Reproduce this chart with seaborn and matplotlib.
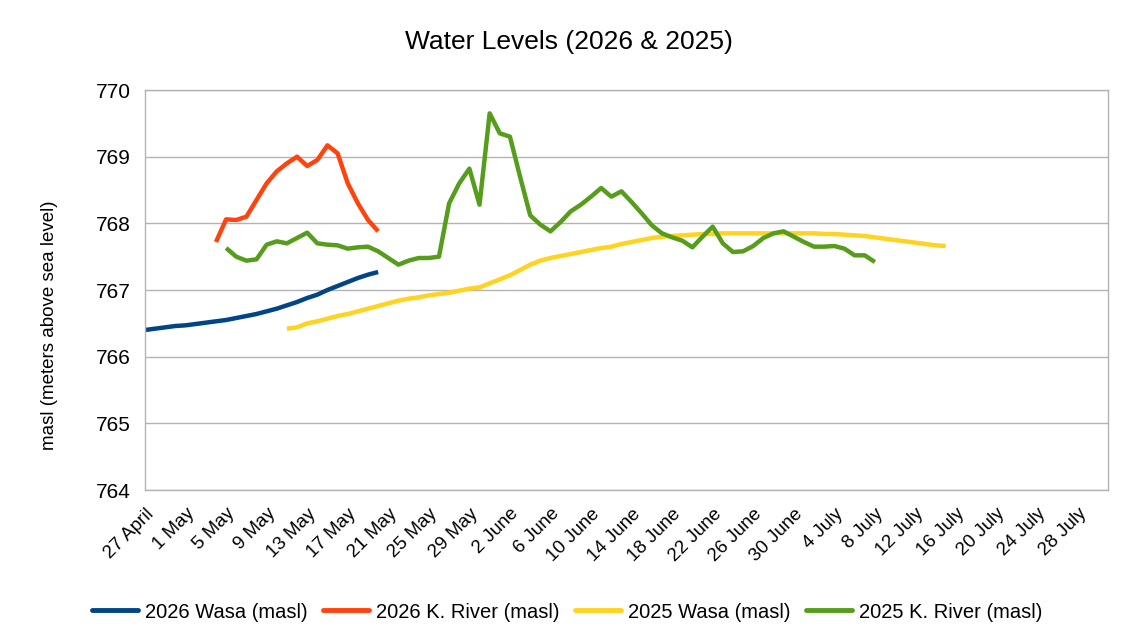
import pandas as pd
import numpy as np
import matplotlib
matplotlib.use("Agg")
import matplotlib.pyplot as plt
import seaborn as sns

# day index 0 = 27 April, one category per day up to 31 July
n_days = 96
tick_labels = ["27 April", "1 May", "5 May", "9 May", "13 May", "17 May",
               "21 May", "25 May", "29 May", "2 June", "6 June", "10 June",
               "14 June", "18 June", "22 June", "26 June", "30 June", "4 July",
               "8 July", "12 July", "16 July", "20 July", "24 July", "28 July"]

# 2026 Wasa, from 27 April
wasa_2026_start = 0
wasa_2026 = [766.40, 766.42, 766.44, 766.46, 766.47, 766.49, 766.51, 766.53,
             766.55, 766.58, 766.61, 766.64, 766.68, 766.72, 766.77, 766.82,
             766.88, 766.93, 767.00, 767.06, 767.12, 767.18, 767.23, 767.27]

# 2026 K. River, from 4 May
river_2026_start = 7
river_2026 = [767.72, 768.06, 768.05, 768.10, 768.35, 768.60, 768.78, 768.90,
              769.00, 768.86, 768.95, 769.17, 769.05, 768.60, 768.30, 768.05,
              767.88]

# 2025 Wasa, from 11 May
wasa_2025_start = 14
wasa_2025 = [766.42, 766.44, 766.50, 766.53, 766.57, 766.61, 766.64, 766.68,
             766.72, 766.76, 766.80, 766.84, 766.87, 766.89, 766.92, 766.94,
             766.96, 766.99, 767.02, 767.04, 767.10, 767.16, 767.22, 767.30,
             767.38, 767.44, 767.48, 767.51, 767.54, 767.57, 767.60, 767.63,
             767.65, 767.69, 767.72, 767.75, 767.78, 767.80, 767.81, 767.82,
             767.83, 767.84, 767.84, 767.85, 767.85, 767.85, 767.85, 767.85,
             767.85, 767.85, 767.85, 767.85, 767.85, 767.84, 767.84, 767.83,
             767.82, 767.81, 767.79, 767.77, 767.75, 767.73, 767.71, 767.69,
             767.67, 767.66]

# 2025 K. River, from 5 May
river_2025_start = 8
river_2025 = [767.63, 767.50, 767.44, 767.46, 767.68, 767.73, 767.70, 767.78,
              767.86, 767.70, 767.68, 767.67, 767.62, 767.64, 767.65, 767.58,
              767.48, 767.38, 767.44, 767.48, 767.48, 767.50, 768.30, 768.60,
              768.82, 768.28, 769.65, 769.35, 769.30, 768.70, 768.12, 767.98,
              767.88, 768.02, 768.18, 768.28, 768.40, 768.53, 768.40, 768.48,
              768.32, 768.15, 767.97, 767.85, 767.79, 767.74, 767.64, 767.80,
              767.95, 767.70, 767.57, 767.58, 767.66, 767.78, 767.85, 767.88,
              767.80, 767.72, 767.65, 767.65, 767.66, 767.62, 767.52, 767.52,
              767.42]

series = [
    ("2026 Wasa (masl)", wasa_2026_start, wasa_2026, "#004586"),
    ("2026 K. River (masl)", river_2026_start, river_2026, "#ff420e"),
    ("2025 Wasa (masl)", wasa_2025_start, wasa_2025, "#ffd320"),
    ("2025 K. River (masl)", river_2025_start, river_2025, "#579d1c"),
]

frames = []
for name, start, vals, _ in series:
    frames.append(pd.DataFrame({"day": np.arange(start, start + len(vals)),
                                "level": vals, "series": name}))
df = pd.concat(frames, ignore_index=True)
palette = {name: col for name, _, _, col in series}

sns.set_style("white")
plt.rcParams["font.family"] = ["Liberation Sans", "DejaVu Sans"]
plt.rcParams["text.color"] = "black"
plt.rcParams["xtick.labelcolor"] = "black"
plt.rcParams["ytick.labelcolor"] = "black"

fig = plt.figure(figsize=(11.32, 6.44), dpi=100)
ax = fig.add_axes([145 / 1132, 1 - 490 / 644, 963 / 1132, 400 / 644])

sns.lineplot(data=df, x="day", y="level", hue="series", palette=palette,
             linewidth=3.2, ax=ax, legend=False, solid_capstyle="butt",
             solid_joinstyle="round")

ax.set_xlim(0, n_days - 1)
ax.set_ylim(764, 770)
ax.set_yticks(range(764, 771))
ax.tick_params(axis="y", labelsize=15, length=0, pad=10, labelcolor="black")

ax.set_xticks(range(0, 4 * len(tick_labels), 4))
ax.set_xticklabels(tick_labels, rotation=45, ha="right",
                   rotation_mode="anchor", fontsize=13.5)
ax.set_xticks(range(0, n_days), minor=True)
ax.tick_params(axis="x", which="both", direction="out", length=6,
               color="#b3b3b3", width=1, pad=5, labelcolor="black")

ax.grid(axis="y", color="#b3b3b3", linewidth=1)
ax.set_axisbelow(True)
for sp in ax.spines.values():
    sp.set_color("#b3b3b3")
    sp.set_linewidth(1)

ax.set_xlabel("")
ax.set_ylabel("")
fig.text(50 / 1132, 1 - 325 / 644, "masl (meters above sea level)",
         rotation=90, ha="center", va="center", fontsize=13.5, color="black")
fig.text(569 / 1132, 1 - 42 / 644, "Water Levels (2026 & 2025)", ha="center",
         va="center", fontsize=19, color="black")

handles = [plt.Line2D([], [], color=col, linewidth=3.5) for _, _, _, col in series]
labels = [name for name, _, _, _ in series]
fig.legend(handles, labels, loc="center", bbox_to_anchor=(567 / 1132, 1 - 612 / 644),
           ncol=4, frameon=False, handlelength=2.3,
           columnspacing=0.75, handletextpad=0.35, labelcolor="black",
           prop={"family": ["Liberation Sans", "DejaVu Sans"], "size": 14.5})

fig.savefig("out.png", dpi=100)
